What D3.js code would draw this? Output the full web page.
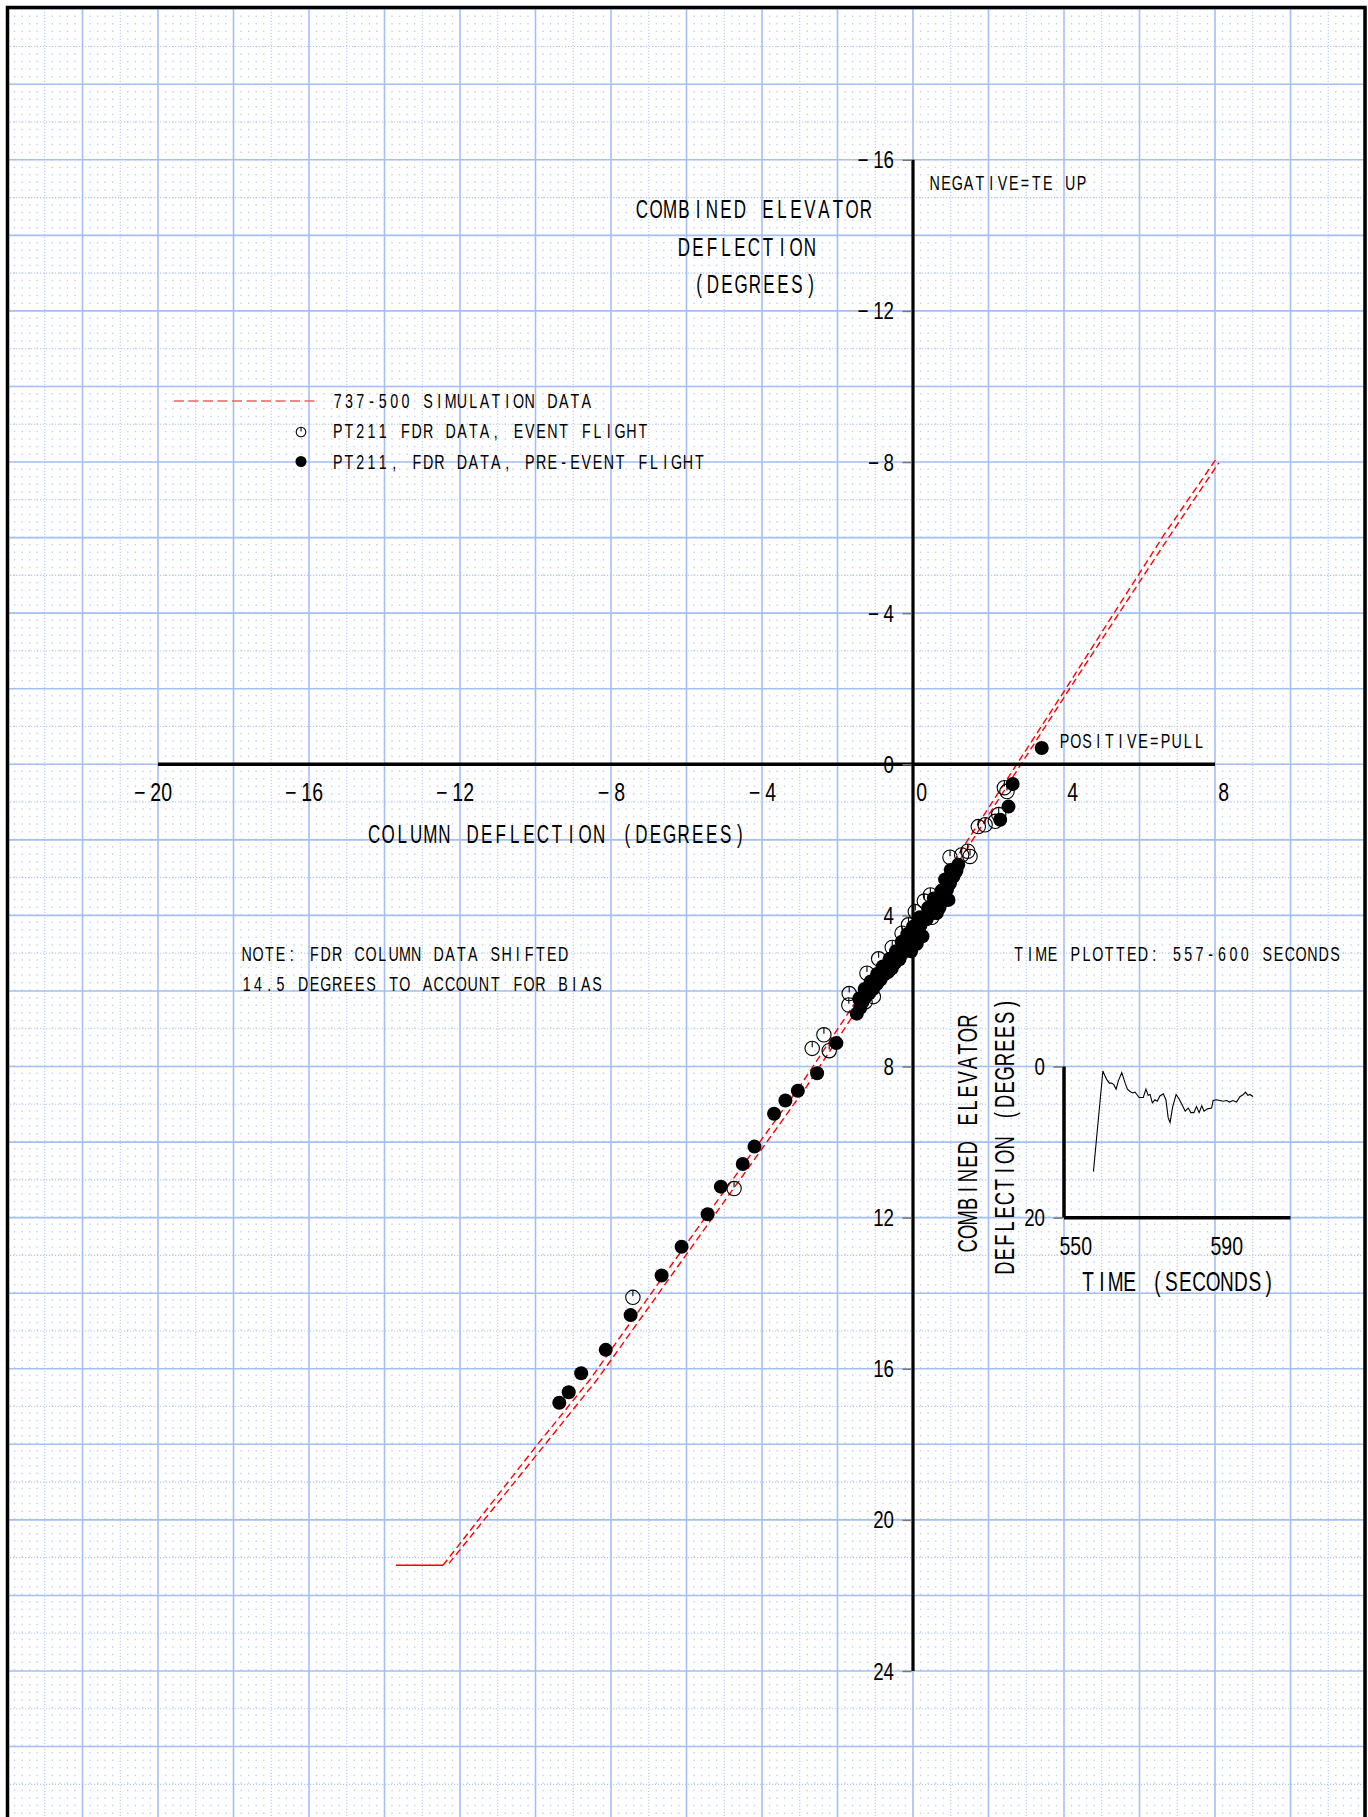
<!DOCTYPE html>
<html>
<head>
<meta charset="utf-8">
<script src="https://cdn.jsdelivr.net/npm/d3@7"></script>
<style>
  html, body { margin: 0; padding: 0; background: #fff; }
  svg { display: block; }
</style>
</head>
<body>
<svg id="chart" width="1368" height="1817"></svg>
<script>
// Column deflection vs combined elevator deflection (737-500, PT211)

// 737-500 simulation: hard stop + two dashed traces [column, elevator]
const simStop = [[-13.7, 21.2], [-12.45, 21.2]];
const simA = [[-12.45, 21.2], [-9.92, 17.97], [-8.56, 16.29], [-5.8, 12.41], [-3.0, 8.53],
    [-1.6, 6.41], [0.54, 3.41], [2.75, 0], [4.06, -2.02], [6.62, -6.03], [8.05, -8.11]];
const simB = [[-12.29, 21.15], [-9.72, 17.97], [-8.37, 16.29], [-5.6, 12.41], [-2.82, 8.53],
    [-1.43, 6.41], [0.68, 3.41], [2.86, 0], [4.16, -2.02], [6.79, -6.03], [8.1, -7.98]];

// PT211 FDR data, event flight (open symbols)
const eventFlight = [[2.49, 0.72], [2.42, 0.62], [2.27, 1.33], [2.18, 1.51], [1.91, 1.60],
    [1.73, 1.65], [1.45, 2.30], [1.51, 2.44], [1.29, 2.40], [0.98, 2.46], [1.10, 2.85],
    [0.46, 3.46], [0.30, 3.62], [0.72, 3.55], [0.06, 3.90], [0.50, 4.05], [-0.12, 4.25],
    [-0.29, 4.47], [0.10, 4.45], [-0.55, 4.85], [-0.35, 5.00], [-0.91, 5.15], [-1.22, 5.53],
    [-0.80, 5.45], [-1.27, 6.29], [-1.40, 6.22], [-1.69, 6.07], [-1.70, 6.37], [-1.05, 6.15],
    [-2.36, 7.16], [-2.67, 7.52], [-2.22, 7.58], [-4.74, 11.23], [-7.42, 14.11]];

// PT211 FDR data, pre-event flight (filled symbols)
const preEventFlight = [[3.41, -0.43], [2.64, 0.52], [2.53, 1.12], [2.31, 1.47], [1.20, 2.66],
    [1.15, 2.82], [1.07, 2.97], [0.98, 3.15], [0.90, 3.32], [0.94, 3.59], [0.80, 3.62],
    [0.70, 3.80], [0.63, 3.94], [0.52, 3.75], [0.45, 3.97], [0.36, 4.10], [0.28, 4.08],
    [0.20, 4.26], [0.12, 4.40], [0.04, 4.55], [-0.05, 4.64], [-0.10, 4.80], [-0.20, 4.90],
    [-0.30, 5.02], [-0.36, 5.16], [-0.48, 5.26], [-0.56, 5.40], [-0.66, 5.50], [-0.76, 5.56],
    [-0.86, 5.70], [-0.96, 5.82], [-1.06, 5.95], [-1.16, 6.06], [-1.26, 6.16], [-1.34, 6.30],
    [-1.40, 6.45], [-1.49, 6.60], [0.75, 3.35], [0.55, 3.55], [0.40, 3.80], [0.18, 4.05],
    [0.00, 4.30], [-0.15, 4.50], [-0.30, 4.70], [-0.45, 4.95], [-0.62, 5.15], [-0.80, 5.35],
    [-0.95, 5.55], [-1.12, 5.75], [-1.28, 5.95], [-1.42, 6.20], [0.25, 4.55], [0.10, 4.75],
    [-0.05, 4.95], [1.00, 2.80], [0.85, 3.05],
    [-2.03, 7.38], [-2.54, 8.18], [-3.05, 8.64], [-3.38, 8.90],
    [-3.68, 9.25], [-4.20, 10.12], [-4.51, 10.58], [-5.09, 11.18], [-5.44, 11.91],
    [-6.13, 12.77], [-6.66, 13.53], [-7.48, 14.58], [-8.14, 15.50], [-8.79, 16.12],
    [-9.12, 16.62], [-9.37, 16.90]];

const xTicks = [-20, -16, -12, -8, -4, 0, 4, 8];
const yTicks = [-16, -12, -8, -4, 0, 4, 8, 12, 16, 20, 24];

// inset: elevator time history, 557-600 s
const insetTime = [557.8, 560.3, 560.9, 561.3, 562.0, 562.6, 563.2, 563.8, 564.4, 565.3,
    566.2, 566.8, 567.5, 568.2, 568.8, 569.3, 569.9, 571.0, 571.7, 572.3, 572.8, 573.4,
    574.1, 574.7, 575.4, 576.3, 577.0, 577.6, 578.1, 578.8, 579.7, 580.5, 581.2, 582.1,
    582.9, 583.6, 584.4, 585.1, 585.8, 586.5, 587.1, 588.0, 589.1, 589.5, 590.4, 591.3,
    592.2, 593.1, 593.8, 594.7, 595.7, 596.6, 597.5, 598.1, 598.7, 599.3, 600.1];
const insetElevator = [13.9, 0.6, 1.3, 1.7, 2.2, 2.2, 2.4, 3.0, 1.9, 0.8,
    2.2, 3.0, 3.3, 3.5, 3.4, 3.7, 4.1, 4.1, 3.0, 3.8, 3.7, 4.8,
    4.4, 4.6, 3.9, 3.6, 4.4, 6.8, 7.4, 5.3, 3.7, 4.3, 5.0, 5.9,
    5.5, 6.1, 6.1, 5.3, 6.1, 5.2, 5.9, 5.6, 5.5, 4.5, 4.4, 4.5,
    4.6, 4.5, 4.7, 4.5, 4.7, 4.0, 3.7, 3.4, 3.8, 3.7, 4.0];
const insetXTicks = [550, 590];
const insetYTicks = [0, 20];

const legendLabels = ['737-500 SIMULATION DATA', 'PT211 FDR DATA, EVENT FLIGHT',
    'PT211, FDR DATA, PRE-EVENT FLIGHT'];

const FONT = '"Liberation Sans", Arial, sans-serif';

class DeflectionChart {
    constructor(svgId) {
        this.svg = d3.select(`#${svgId}`);
        this.x = d3.scaleLinear().domain([-20, 8]).range([158, 1215]);
        this.y = d3.scaleLinear().domain([-16, 24]).range([159.8, 1671]);
        // inset sits on the main grid: x 4..10, y 8..12
        this.ix = d3.scaleLinear().domain([550, 610]).range([this.x(4), this.x(10)]);
        this.iy = d3.scaleLinear().domain([0, 20]).range([this.y(8), this.y(12)]);
    }

    // fixed-pitch narrow lettering, like the plotter font
    mono(parent, str, x0, yBase, pitch, size, rotate = false) {
        const sx = 0.68;
        const g = parent.append('g')
            .attr('transform', `translate(${x0},${yBase})${rotate ? ' rotate(-90)' : ''} scale(${sx},1)`);
        const chars = Array.from(str).map((c, i) => ({ c, i })).filter(d => d.c !== ' ');
        g.append('text')
            .attr('text-anchor', 'middle')
            .style('font-family', FONT)
            .style('font-size', size + 'px')
            .style('fill', '#000')
            .selectAll('tspan')
            .data(chars)
            .enter()
            .append('tspan')
            .attr('x', d => (d.i + 0.5) * pitch / sx)
            .attr('y', 0)
            .text(d => d.c);
    }

    // tick numbers: minus set apart, digits tight
    num(parent, v, xRight, yBase, size) {
        const t = parent.append('text')
            .attr('transform', `translate(${xRight},${yBase}) scale(0.78,1)`)
            .attr('text-anchor', 'end')
            .style('font-family', FONT)
            .style('font-size', size + 'px')
            .style('fill', '#000');
        if (v < 0) t.append('tspan').text('\u2212');
        t.append('tspan').attr('dx', v < 0 ? 6 : 0).text(Math.abs(v));
    }

    render() {
        const svg = this.svg;
        const { x, y } = this;
        svg.selectAll('*').remove();

        this.drawGrid();

        // frame
        svg.append('rect')
            .attr('x', 7.5).attr('y', 7.5)
            .attr('width', 1357.5).attr('height', 1830)
            .style('fill', 'none')
            .style('stroke', '#000')
            .style('stroke-width', 3.5);

        const line = d3.line().x(d => x(d[0])).y(d => y(d[1]));

        // simulation
        svg.append('path')
            .attr('d', line(simStop))
            .style('fill', 'none').style('stroke', '#f00').style('stroke-width', 1.5);
        [simA, simB].forEach(s => {
            svg.append('path')
                .attr('d', line(s))
                .style('fill', 'none')
                .style('stroke', '#f00')
                .style('stroke-width', 1.4)
                .style('stroke-dasharray', '7,4');
        });

        // axes
        svg.append('line')
            .attr('x1', x(0)).attr('x2', x(0))
            .attr('y1', y(-16)).attr('y2', y(24))
            .style('stroke', '#000').style('stroke-width', 3.2);
        svg.append('line')
            .attr('x1', x(-20)).attr('x2', x(8))
            .attr('y1', y(0)).attr('y2', y(0))
            .style('stroke', '#000').style('stroke-width', 3.5);

        const yAxis = svg.append('g')
            .attr('transform', `translate(${x(0) - 1.5},0)`)
            .call(d3.axisLeft(y).tickValues(yTicks).tickSize(9).tickFormat(''));
        yAxis.select('.domain').remove();
        yAxis.selectAll('.tick line').style('stroke', '#777').style('stroke-width', 1.5);

        yTicks.forEach(v => this.num(svg, v, x(0) - 19, y(v) + 8.5, 24));
        xTicks.forEach(v => this.num(svg, v, x(v) + 14, y(0) + 37, 25));

        // data points
        preEventFlight.forEach(d => {
            svg.append('circle')
                .attr('cx', x(d[0])).attr('cy', y(d[1])).attr('r', 7)
                .style('fill', '#000');
        });
        eventFlight.forEach(d => this.openMark(svg, x(d[0]), y(d[1]), 7.2));

        // titles and notes
        this.mono(svg, 'COMBINED ELEVATOR', 635, 218, 14, 25);
        this.mono(svg, 'DEFLECTION', 677, 256, 14, 25);
        this.mono(svg, '(DEGREES)', 692, 293, 14, 25);
        this.mono(svg, 'NEGATIVE=TE UP', 929, 190, 11.3, 21);
        this.mono(svg, 'POSITIVE=PULL', 1059, 748, 11.2, 21);
        this.mono(svg, 'COLUMN DEFLECTION (DEGREES)', 367, 843, 14.07, 25);
        this.mono(svg, 'NOTE: FDR COLUMN DATA SHIFTED', 241, 961, 11.3, 21);
        this.mono(svg, '14.5 DEGREES TO ACCOUNT FOR BIAS', 241, 990.5, 11.3, 21);
        this.mono(svg, 'TIME PLOTTED: 557-600 SECONDS', 1013, 961, 11.3, 21);

        this.addLegend(svg);
        this.drawInset(svg);
    }

    openMark(parent, cx, cy, r) {
        parent.append('circle')
            .attr('cx', cx).attr('cy', cy).attr('r', r)
            .style('fill', 'none')
            .style('stroke', '#000')
            .style('stroke-width', 1.1);
        parent.append('line')
            .attr('x1', cx).attr('x2', cx)
            .attr('y1', cy - r).attr('y2', cy - r * 0.15)
            .style('stroke', '#000')
            .style('stroke-width', 1.1);
    }

    drawGrid() {
        const { x, y } = this;
        const unit = x(1) - x(0);
        const g = this.svg.append('g');
        const x0 = x(-24), x1 = 1365;
        const y0 = y(-20), y1 = 1817;

        // minor dots every 0.2, drawn as dotted verticals
        const minor = d3.range(-120, 61).filter(k => k % 5 !== 0).map(k => k / 5);
        g.selectAll('.minor')
            .data(minor)
            .enter()
            .append('line')
            .attr('x1', d => x(d)).attr('x2', d => x(d))
            .attr('y1', y0 - 0.75).attr('y2', y1)
            .style('stroke', '#bfd1f5')
            .style('stroke-width', 1.4)
            .style('stroke-dasharray', `1.5,${(0.2 * unit - 1.5).toFixed(3)}`);

        // unit lines, fine dotted
        const midX = d3.range(-23, 12, 2);
        const midY = d3.range(-19, 28, 2);
        const dotted = sel => sel
            .style('stroke', '#b3c9f3')
            .style('stroke-width', 1.1)
            .style('stroke-dasharray', '1.2,1.8');
        g.selectAll('.midx').data(midX).enter().append('line')
            .attr('x1', d => x(d)).attr('x2', d => x(d)).attr('y1', y0).attr('y2', y1)
            .call(dotted);
        g.selectAll('.midy').data(midY).enter().append('line')
            .attr('x1', x0).attr('x2', x1).attr('y1', d => y(d)).attr('y2', d => y(d))
            .call(dotted);

        // major lines every 2
        const majX = d3.range(-24, 13, 2);
        const majY = d3.range(-20, 29, 2);
        const solid = sel => sel
            .style('stroke', '#a4bff3')
            .style('stroke-width', 1.6);
        g.selectAll('.majx').data(majX).enter().append('line')
            .attr('x1', d => x(d)).attr('x2', d => x(d)).attr('y1', y0).attr('y2', y1)
            .call(solid);
        g.selectAll('.majy').data(majY).enter().append('line')
            .attr('x1', x0).attr('x2', x1).attr('y1', d => y(d)).attr('y2', d => y(d))
            .call(solid);
    }

    addLegend(svg) {
        svg.append('line')
            .attr('x1', 174).attr('x2', 318)
            .attr('y1', 401).attr('y2', 401)
            .style('stroke', '#f06262')
            .style('stroke-width', 1.6)
            .style('stroke-dasharray', '10,4.5');
        this.openMark(svg, 301, 432, 4.8);
        svg.append('circle')
            .attr('cx', 301).attr('cy', 461.5).attr('r', 5.5)
            .style('fill', '#000');

        const rows = [408, 438, 469];
        legendLabels.forEach((t, i) => this.mono(svg, t, 332, rows[i], 11.3, 21));
    }

    drawInset(svg) {
        const { ix, iy } = this;
        const g = svg.append('g');

        g.append('line')
            .attr('x1', ix(550)).attr('x2', ix(550))
            .attr('y1', iy(0)).attr('y2', iy(20))
            .style('stroke', '#000').style('stroke-width', 3.5);
        g.append('line')
            .attr('x1', ix(550)).attr('x2', ix(610))
            .attr('y1', iy(20)).attr('y2', iy(20))
            .style('stroke', '#000').style('stroke-width', 3.5);

        const ya = g.append('g')
            .attr('transform', `translate(${ix(550) - 1.5},0)`)
            .call(d3.axisLeft(iy).tickValues(insetYTicks).tickSize(9).tickFormat(''));
        ya.select('.domain').remove();
        ya.selectAll('.tick line').style('stroke', '#777').style('stroke-width', 1.5);

        insetYTicks.forEach(v => this.num(g, v, ix(550) - 19, iy(v) + 8.5, 24));
        insetXTicks.forEach(v => this.num(g, v, ix(v) + 28, iy(20) + 37, 25));

        const trace = d3.line()
            .x((d, i) => ix(insetTime[i]))
            .y(d => iy(d));
        g.append('path')
            .attr('d', trace(insetElevator))
            .style('fill', 'none')
            .style('stroke', '#000')
            .style('stroke-width', 1.1);

        this.mono(g, 'TIME (SECONDS)', 1081, 1291, 13.9, 28);
        this.mono(g, 'COMBINED ELEVATOR', 977, 1253, 14.06, 27, true);
        this.mono(g, 'DEFLECTION (DEGREES)', 1014, 1275, 13.9, 27, true);
    }
}

const chart = new DeflectionChart('chart');
chart.render();
</script>
</body>
</html>
